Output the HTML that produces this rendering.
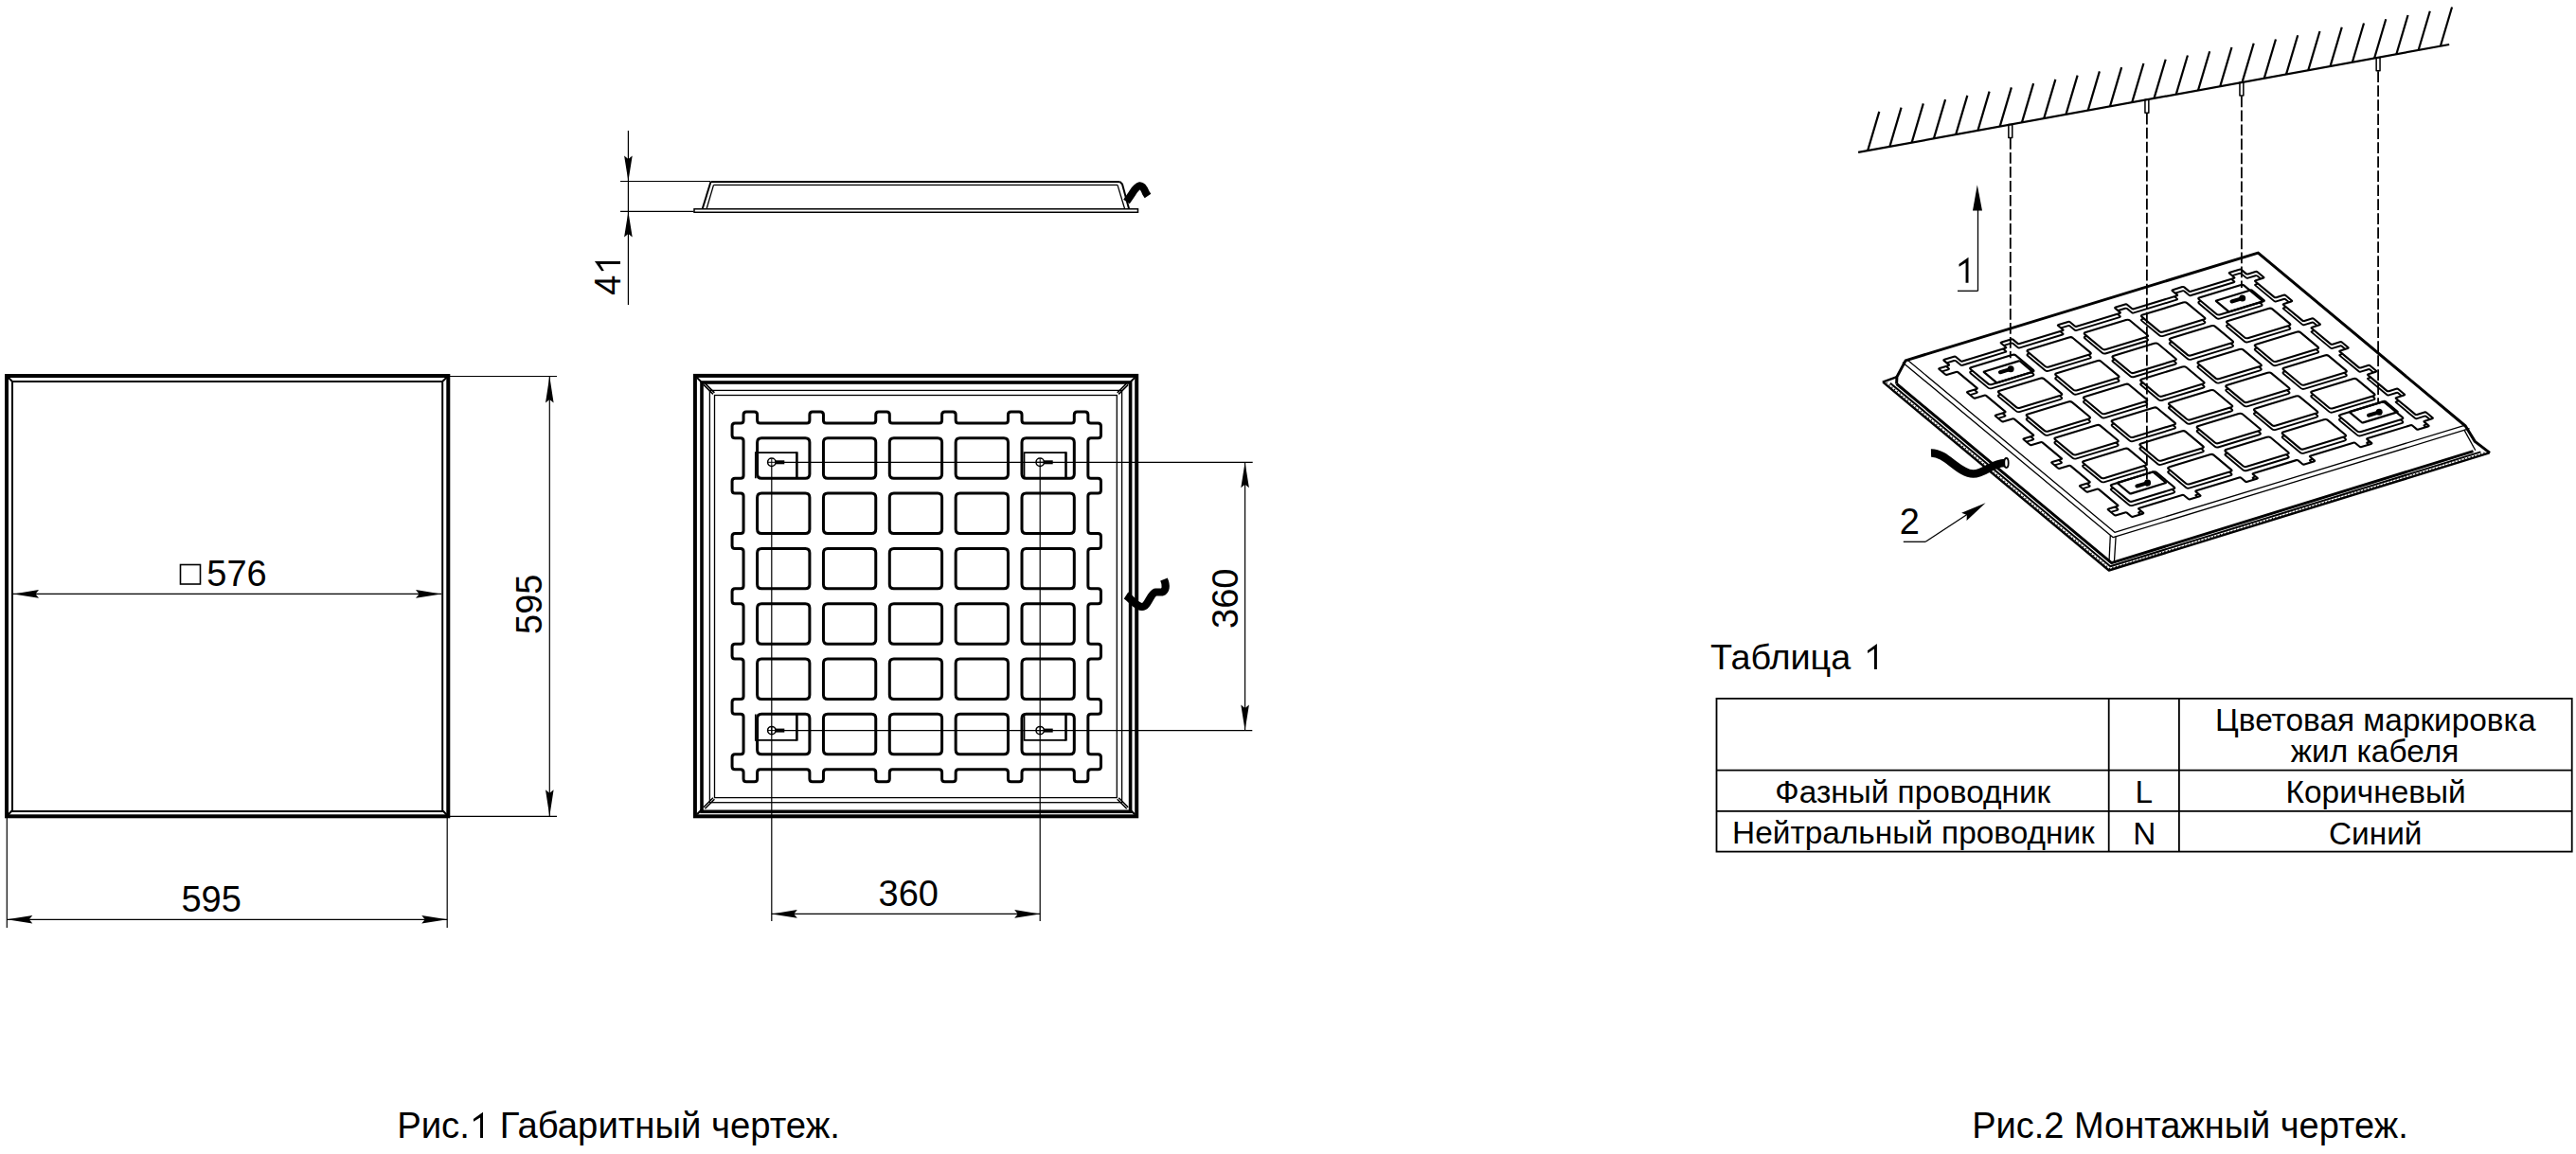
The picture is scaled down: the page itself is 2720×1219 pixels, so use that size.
<!DOCTYPE html>
<html><head><meta charset="utf-8"><style>
html,body{margin:0;padding:0;background:#fff;overflow:hidden}
svg{display:block}
text{font-family:"Liberation Sans",sans-serif}
</style></head><body>
<svg width="2720" height="1219" viewBox="0 0 2720 1219" font-family="Liberation Sans, sans-serif">
<rect width="100%" height="100%" fill="#fff"/>
<g stroke="#000" fill="none" stroke-linecap="butt">
<rect x="7" y="397" width="466.3" height="465.3" stroke-width="4"/>
<rect x="13" y="403" width="454.2" height="454" stroke-width="2"/>
<line x1="8.5" y1="398.5" x2="12.5" y2="402.5" stroke-width="2" />
<line x1="471.8" y1="398.5" x2="467.7" y2="402.5" stroke-width="2" />
<line x1="8.5" y1="860.8" x2="12.5" y2="856.5" stroke-width="2" />
<line x1="471.8" y1="860.8" x2="467.7" y2="856.5" stroke-width="2" />
<line x1="14" y1="627.4" x2="466" y2="627.4" stroke-width="1.2" />
<polygon points="14,627.4 41,623.1 37.5,627.4 41,631.7" fill="#000" stroke="none"/>
<polygon points="466,627.4 439,631.7 442.5,627.4 439,623.1" fill="#000" stroke="none"/>
<rect x="190.5" y="596.5" width="21" height="20.5" stroke-width="1.6"/>
<line x1="475" y1="397.5" x2="588" y2="397.5" stroke-width="1.2" />
<line x1="475" y1="862.3" x2="588" y2="862.3" stroke-width="1.2" />
<line x1="580.3" y1="397.5" x2="580.3" y2="862.3" stroke-width="1.2" />
<polygon points="580.3,397.5 584.6,425.5 580.3,422 576,425.5" fill="#000" stroke="none"/>
<polygon points="580.3,862.3 576,834.3 580.3,837.8 584.6,834.3" fill="#000" stroke="none"/>
<line x1="7.3" y1="864" x2="7.3" y2="980" stroke-width="1.2" />
<line x1="472.2" y1="864" x2="472.2" y2="980" stroke-width="1.2" />
<line x1="7.3" y1="971.3" x2="472.2" y2="971.3" stroke-width="1.2" />
<polygon points="7.3,971.3 34.3,967 30.8,971.3 34.3,975.6" fill="#000" stroke="none"/>
<polygon points="472.2,971.3 445.2,975.6 448.7,971.3 445.2,967" fill="#000" stroke="none"/>
<line x1="663.4" y1="138" x2="663.4" y2="322" stroke-width="1.2" />
<polygon points="663.4,191.5 659.1,164.5 663.4,168 667.7,164.5" fill="#000" stroke="none"/>
<polygon points="663.4,223.4 667.7,250.4 663.4,246.9 659.1,250.4" fill="#000" stroke="none"/>
<line x1="655" y1="191.5" x2="750" y2="191.5" stroke-width="1.2" />
<line x1="655" y1="223.4" x2="732.5" y2="223.4" stroke-width="1.2" />
<line x1="750.5" y1="192" x2="1182.5" y2="192" stroke-width="2" />
<line x1="753.5" y1="195.4" x2="1180" y2="195.4" stroke-width="1.3" />
<polyline points="750.5,192 741.8,220.3" stroke-width="2"/>
<polyline points="753.5,195.4 746.2,220.3" stroke-width="1.3"/>
<polyline points="1182.5,192 1185,194.5 1192,220.3" stroke-width="2"/>
<polyline points="1180,195.4 1187.5,220.3" stroke-width="1.3"/>
<path d="M733,220.8 H1201.5 V224.2 H733 Z" stroke-width="1.5"/>
<path d="M1189.5,213 L1194,206.5 C1197,202 1199.5,197 1203.5,196.3 C1206.5,196 1208.5,200 1210,204 L1212,207" stroke-width="8" stroke-linecap="butt" stroke-linejoin="miter"/>
<rect x="733.9" y="396.9" width="466.3" height="465.4" stroke-width="4"/>
<rect x="741" y="404" width="452.6" height="453.3" stroke-width="3.6"/>
<rect x="749.4" y="412.4" width="435.2" height="435.3" stroke-width="1.3"/>
<rect x="754.5" y="417.5" width="424.8" height="425.1" stroke-width="1.3"/>
<line x1="735.9" y1="398.9" x2="740.9" y2="403.9" stroke-width="2" />
<line x1="742.9" y1="406.4" x2="752.9" y2="416.4" stroke-width="1.5" />
<line x1="744.4" y1="404.9" x2="754.4" y2="414.9" stroke-width="1.5" />
<line x1="1198.2" y1="398.9" x2="1193.2" y2="403.9" stroke-width="2" />
<line x1="1191.2" y1="406.4" x2="1181.2" y2="416.4" stroke-width="1.5" />
<line x1="1189.7" y1="404.9" x2="1179.7" y2="414.9" stroke-width="1.5" />
<line x1="735.9" y1="860.3" x2="740.9" y2="855.3" stroke-width="2" />
<line x1="742.9" y1="852.8" x2="752.9" y2="842.8" stroke-width="1.5" />
<line x1="744.4" y1="854.3" x2="754.4" y2="844.3" stroke-width="1.5" />
<line x1="1198.2" y1="860.3" x2="1193.2" y2="855.3" stroke-width="2" />
<line x1="1191.2" y1="852.8" x2="1181.2" y2="842.8" stroke-width="1.5" />
<line x1="1189.7" y1="854.3" x2="1179.7" y2="844.3" stroke-width="1.5" />
<path d="M782.05,446.89Q785.05,446.89 785.05,443.89L785.05,437.89Q785.05,434.89 788.05,434.89L796.6,434.89Q799.6,434.89 799.6,437.89L799.6,443.89Q799.6,446.89 802.6,446.89L851.9,446.89Q854.9,446.89 854.9,443.89L854.9,437.89Q854.9,434.89 857.9,434.89L866.45,434.89Q869.45,434.89 869.45,437.89L869.45,443.89Q869.45,446.89 872.45,446.89L921.75,446.89Q924.75,446.89 924.75,443.89L924.75,437.89Q924.75,434.89 927.75,434.89L936.3,434.89Q939.3,434.89 939.3,437.89L939.3,443.89Q939.3,446.89 942.3,446.89L991.6,446.89Q994.6,446.89 994.6,443.89L994.6,437.89Q994.6,434.89 997.6,434.89L1006.15,434.89Q1009.15,434.89 1009.15,437.89L1009.15,443.89Q1009.15,446.89 1012.15,446.89L1061.45,446.89Q1064.45,446.89 1064.45,443.89L1064.45,437.89Q1064.45,434.89 1067.45,434.89L1076,434.89Q1079,434.89 1079,437.89L1079,443.89Q1079,446.89 1082,446.89L1131.3,446.89Q1134.3,446.89 1134.3,443.89L1134.3,437.89Q1134.3,434.89 1137.3,434.89L1145.85,434.89Q1148.85,434.89 1148.85,437.89L1148.85,443.89Q1148.85,446.89 1151.85,446.89L1159.45,446.89Q1162.45,446.89 1162.45,449.89L1162.45,459.8Q1162.45,462.8 1159.45,462.8L1151.85,462.8Q1148.85,462.8 1148.85,465.8L1148.85,502.2Q1148.85,505.2 1151.85,505.2L1159.45,505.2Q1162.45,505.2 1162.45,508.2L1162.45,518.11Q1162.45,521.11 1159.45,521.11L1151.85,521.11Q1148.85,521.11 1148.85,524.11L1148.85,560.51Q1148.85,563.51 1151.85,563.51L1159.45,563.51Q1162.45,563.51 1162.45,566.51L1162.45,576.42Q1162.45,579.42 1159.45,579.42L1151.85,579.42Q1148.85,579.42 1148.85,582.42L1148.85,618.82Q1148.85,621.82 1151.85,621.82L1159.45,621.82Q1162.45,621.82 1162.45,624.82L1162.45,634.73Q1162.45,637.73 1159.45,637.73L1151.85,637.73Q1148.85,637.73 1148.85,640.73L1148.85,677.13Q1148.85,680.13 1151.85,680.13L1159.45,680.13Q1162.45,680.13 1162.45,683.13L1162.45,693.04Q1162.45,696.04 1159.45,696.04L1151.85,696.04Q1148.85,696.04 1148.85,699.04L1148.85,735.44Q1148.85,738.44 1151.85,738.44L1159.45,738.44Q1162.45,738.44 1162.45,741.44L1162.45,751.35Q1162.45,754.35 1159.45,754.35L1151.85,754.35Q1148.85,754.35 1148.85,757.35L1148.85,793.75Q1148.85,796.75 1151.85,796.75L1159.45,796.75Q1162.45,796.75 1162.45,799.75L1162.45,809.66Q1162.45,812.66 1159.45,812.66L1151.85,812.66Q1148.85,812.66 1148.85,815.66L1148.85,822.66Q1148.85,825.66 1145.85,825.66L1137.3,825.66Q1134.3,825.66 1134.3,822.66L1134.3,815.66Q1134.3,812.66 1131.3,812.66L1082,812.66Q1079,812.66 1079,815.66L1079,822.66Q1079,825.66 1076,825.66L1067.45,825.66Q1064.45,825.66 1064.45,822.66L1064.45,815.66Q1064.45,812.66 1061.45,812.66L1012.15,812.66Q1009.15,812.66 1009.15,815.66L1009.15,822.66Q1009.15,825.66 1006.15,825.66L997.6,825.66Q994.6,825.66 994.6,822.66L994.6,815.66Q994.6,812.66 991.6,812.66L942.3,812.66Q939.3,812.66 939.3,815.66L939.3,822.66Q939.3,825.66 936.3,825.66L927.75,825.66Q924.75,825.66 924.75,822.66L924.75,815.66Q924.75,812.66 921.75,812.66L872.45,812.66Q869.45,812.66 869.45,815.66L869.45,822.66Q869.45,825.66 866.45,825.66L857.9,825.66Q854.9,825.66 854.9,822.66L854.9,815.66Q854.9,812.66 851.9,812.66L802.6,812.66Q799.6,812.66 799.6,815.66L799.6,822.66Q799.6,825.66 796.6,825.66L788.05,825.66Q785.05,825.66 785.05,822.66L785.05,815.66Q785.05,812.66 782.05,812.66L776.05,812.66Q773.05,812.66 773.05,809.66L773.05,799.75Q773.05,796.75 776.05,796.75L782.05,796.75Q785.05,796.75 785.05,793.75L785.05,757.35Q785.05,754.35 782.05,754.35L776.05,754.35Q773.05,754.35 773.05,751.35L773.05,741.44Q773.05,738.44 776.05,738.44L782.05,738.44Q785.05,738.44 785.05,735.44L785.05,699.04Q785.05,696.04 782.05,696.04L776.05,696.04Q773.05,696.04 773.05,693.04L773.05,683.13Q773.05,680.13 776.05,680.13L782.05,680.13Q785.05,680.13 785.05,677.13L785.05,640.73Q785.05,637.73 782.05,637.73L776.05,637.73Q773.05,637.73 773.05,634.73L773.05,624.82Q773.05,621.82 776.05,621.82L782.05,621.82Q785.05,621.82 785.05,618.82L785.05,582.42Q785.05,579.42 782.05,579.42L776.05,579.42Q773.05,579.42 773.05,576.42L773.05,566.51Q773.05,563.51 776.05,563.51L782.05,563.51Q785.05,563.51 785.05,560.51L785.05,524.11Q785.05,521.11 782.05,521.11L776.05,521.11Q773.05,521.11 773.05,518.11L773.05,508.2Q773.05,505.2 776.05,505.2L782.05,505.2Q785.05,505.2 785.05,502.2L785.05,465.8Q785.05,462.8 782.05,462.8L776.05,462.8Q773.05,462.8 773.05,459.8L773.05,449.89Q773.05,446.89 776.05,446.89Z" stroke-width="3" stroke-linejoin="round"/>
<path d="M799.6,467.3Q799.6,462.8 804.1,462.8L850.4,462.8Q854.9,462.8 854.9,467.3L854.9,500.7Q854.9,505.2 850.4,505.2L804.1,505.2Q799.6,505.2 799.6,500.7Z" stroke-width="3"/>
<path d="M799.6,525.61Q799.6,521.11 804.1,521.11L850.4,521.11Q854.9,521.11 854.9,525.61L854.9,559.01Q854.9,563.51 850.4,563.51L804.1,563.51Q799.6,563.51 799.6,559.01Z" stroke-width="3"/>
<path d="M799.6,583.92Q799.6,579.42 804.1,579.42L850.4,579.42Q854.9,579.42 854.9,583.92L854.9,617.32Q854.9,621.82 850.4,621.82L804.1,621.82Q799.6,621.82 799.6,617.32Z" stroke-width="3"/>
<path d="M799.6,642.23Q799.6,637.73 804.1,637.73L850.4,637.73Q854.9,637.73 854.9,642.23L854.9,675.63Q854.9,680.13 850.4,680.13L804.1,680.13Q799.6,680.13 799.6,675.63Z" stroke-width="3"/>
<path d="M799.6,700.54Q799.6,696.04 804.1,696.04L850.4,696.04Q854.9,696.04 854.9,700.54L854.9,733.94Q854.9,738.44 850.4,738.44L804.1,738.44Q799.6,738.44 799.6,733.94Z" stroke-width="3"/>
<path d="M799.6,758.85Q799.6,754.35 804.1,754.35L850.4,754.35Q854.9,754.35 854.9,758.85L854.9,792.25Q854.9,796.75 850.4,796.75L804.1,796.75Q799.6,796.75 799.6,792.25Z" stroke-width="3"/>
<path d="M869.45,467.3Q869.45,462.8 873.95,462.8L920.25,462.8Q924.75,462.8 924.75,467.3L924.75,500.7Q924.75,505.2 920.25,505.2L873.95,505.2Q869.45,505.2 869.45,500.7Z" stroke-width="3"/>
<path d="M869.45,525.61Q869.45,521.11 873.95,521.11L920.25,521.11Q924.75,521.11 924.75,525.61L924.75,559.01Q924.75,563.51 920.25,563.51L873.95,563.51Q869.45,563.51 869.45,559.01Z" stroke-width="3"/>
<path d="M869.45,583.92Q869.45,579.42 873.95,579.42L920.25,579.42Q924.75,579.42 924.75,583.92L924.75,617.32Q924.75,621.82 920.25,621.82L873.95,621.82Q869.45,621.82 869.45,617.32Z" stroke-width="3"/>
<path d="M869.45,642.23Q869.45,637.73 873.95,637.73L920.25,637.73Q924.75,637.73 924.75,642.23L924.75,675.63Q924.75,680.13 920.25,680.13L873.95,680.13Q869.45,680.13 869.45,675.63Z" stroke-width="3"/>
<path d="M869.45,700.54Q869.45,696.04 873.95,696.04L920.25,696.04Q924.75,696.04 924.75,700.54L924.75,733.94Q924.75,738.44 920.25,738.44L873.95,738.44Q869.45,738.44 869.45,733.94Z" stroke-width="3"/>
<path d="M869.45,758.85Q869.45,754.35 873.95,754.35L920.25,754.35Q924.75,754.35 924.75,758.85L924.75,792.25Q924.75,796.75 920.25,796.75L873.95,796.75Q869.45,796.75 869.45,792.25Z" stroke-width="3"/>
<path d="M939.3,467.3Q939.3,462.8 943.8,462.8L990.1,462.8Q994.6,462.8 994.6,467.3L994.6,500.7Q994.6,505.2 990.1,505.2L943.8,505.2Q939.3,505.2 939.3,500.7Z" stroke-width="3"/>
<path d="M939.3,525.61Q939.3,521.11 943.8,521.11L990.1,521.11Q994.6,521.11 994.6,525.61L994.6,559.01Q994.6,563.51 990.1,563.51L943.8,563.51Q939.3,563.51 939.3,559.01Z" stroke-width="3"/>
<path d="M939.3,583.92Q939.3,579.42 943.8,579.42L990.1,579.42Q994.6,579.42 994.6,583.92L994.6,617.32Q994.6,621.82 990.1,621.82L943.8,621.82Q939.3,621.82 939.3,617.32Z" stroke-width="3"/>
<path d="M939.3,642.23Q939.3,637.73 943.8,637.73L990.1,637.73Q994.6,637.73 994.6,642.23L994.6,675.63Q994.6,680.13 990.1,680.13L943.8,680.13Q939.3,680.13 939.3,675.63Z" stroke-width="3"/>
<path d="M939.3,700.54Q939.3,696.04 943.8,696.04L990.1,696.04Q994.6,696.04 994.6,700.54L994.6,733.94Q994.6,738.44 990.1,738.44L943.8,738.44Q939.3,738.44 939.3,733.94Z" stroke-width="3"/>
<path d="M939.3,758.85Q939.3,754.35 943.8,754.35L990.1,754.35Q994.6,754.35 994.6,758.85L994.6,792.25Q994.6,796.75 990.1,796.75L943.8,796.75Q939.3,796.75 939.3,792.25Z" stroke-width="3"/>
<path d="M1009.15,467.3Q1009.15,462.8 1013.65,462.8L1059.95,462.8Q1064.45,462.8 1064.45,467.3L1064.45,500.7Q1064.45,505.2 1059.95,505.2L1013.65,505.2Q1009.15,505.2 1009.15,500.7Z" stroke-width="3"/>
<path d="M1009.15,525.61Q1009.15,521.11 1013.65,521.11L1059.95,521.11Q1064.45,521.11 1064.45,525.61L1064.45,559.01Q1064.45,563.51 1059.95,563.51L1013.65,563.51Q1009.15,563.51 1009.15,559.01Z" stroke-width="3"/>
<path d="M1009.15,583.92Q1009.15,579.42 1013.65,579.42L1059.95,579.42Q1064.45,579.42 1064.45,583.92L1064.45,617.32Q1064.45,621.82 1059.95,621.82L1013.65,621.82Q1009.15,621.82 1009.15,617.32Z" stroke-width="3"/>
<path d="M1009.15,642.23Q1009.15,637.73 1013.65,637.73L1059.95,637.73Q1064.45,637.73 1064.45,642.23L1064.45,675.63Q1064.45,680.13 1059.95,680.13L1013.65,680.13Q1009.15,680.13 1009.15,675.63Z" stroke-width="3"/>
<path d="M1009.15,700.54Q1009.15,696.04 1013.65,696.04L1059.95,696.04Q1064.45,696.04 1064.45,700.54L1064.45,733.94Q1064.45,738.44 1059.95,738.44L1013.65,738.44Q1009.15,738.44 1009.15,733.94Z" stroke-width="3"/>
<path d="M1009.15,758.85Q1009.15,754.35 1013.65,754.35L1059.95,754.35Q1064.45,754.35 1064.45,758.85L1064.45,792.25Q1064.45,796.75 1059.95,796.75L1013.65,796.75Q1009.15,796.75 1009.15,792.25Z" stroke-width="3"/>
<path d="M1079,467.3Q1079,462.8 1083.5,462.8L1129.8,462.8Q1134.3,462.8 1134.3,467.3L1134.3,500.7Q1134.3,505.2 1129.8,505.2L1083.5,505.2Q1079,505.2 1079,500.7Z" stroke-width="3"/>
<path d="M1079,525.61Q1079,521.11 1083.5,521.11L1129.8,521.11Q1134.3,521.11 1134.3,525.61L1134.3,559.01Q1134.3,563.51 1129.8,563.51L1083.5,563.51Q1079,563.51 1079,559.01Z" stroke-width="3"/>
<path d="M1079,583.92Q1079,579.42 1083.5,579.42L1129.8,579.42Q1134.3,579.42 1134.3,583.92L1134.3,617.32Q1134.3,621.82 1129.8,621.82L1083.5,621.82Q1079,621.82 1079,617.32Z" stroke-width="3"/>
<path d="M1079,642.23Q1079,637.73 1083.5,637.73L1129.8,637.73Q1134.3,637.73 1134.3,642.23L1134.3,675.63Q1134.3,680.13 1129.8,680.13L1083.5,680.13Q1079,680.13 1079,675.63Z" stroke-width="3"/>
<path d="M1079,700.54Q1079,696.04 1083.5,696.04L1129.8,696.04Q1134.3,696.04 1134.3,700.54L1134.3,733.94Q1134.3,738.44 1129.8,738.44L1083.5,738.44Q1079,738.44 1079,733.94Z" stroke-width="3"/>
<path d="M1079,758.85Q1079,754.35 1083.5,754.35L1129.8,754.35Q1134.3,754.35 1134.3,758.85L1134.3,792.25Q1134.3,796.75 1129.8,796.75L1083.5,796.75Q1079,796.75 1079,792.25Z" stroke-width="3"/>
<polyline points="797.8,505.2 797.8,478.1 841.4,478.1" stroke-width="1.7"/>
<line x1="841.4" y1="477.3" x2="841.4" y2="505.2" stroke-width="2.6"/>
<polyline points="1081.5,505.2 1081.5,478.1 1125.5,478.1" stroke-width="1.7"/>
<line x1="1125.5" y1="477.3" x2="1125.5" y2="505.2" stroke-width="2.6"/>
<polyline points="797.8,754.4 797.8,781.8 841.4,781.8" stroke-width="1.7"/>
<line x1="841.4" y1="754.4" x2="841.4" y2="782.5999999999999" stroke-width="2.6"/>
<polyline points="1081.5,754.4 1081.5,781.8 1125.5,781.8" stroke-width="1.7"/>
<line x1="1125.5" y1="754.4" x2="1125.5" y2="782.5999999999999" stroke-width="2.6"/>
<circle cx="814.8" cy="488.3" r="4.2" stroke-width="1.5"/>
<line x1="810.8" y1="488.3" x2="818.8" y2="488.3" stroke-width="1" />
<line x1="814.8" y1="484.3" x2="814.8" y2="492.3" stroke-width="1" />
<rect x="818.8" y="486.3" width="9.5" height="4" fill="#000" stroke="none"/>
<circle cx="1098.2" cy="488.3" r="4.2" stroke-width="1.5"/>
<line x1="1094.2" y1="488.3" x2="1102.2" y2="488.3" stroke-width="1" />
<line x1="1098.2" y1="484.3" x2="1098.2" y2="492.3" stroke-width="1" />
<rect x="1102.2" y="486.3" width="9.5" height="4" fill="#000" stroke="none"/>
<circle cx="814.8" cy="771.6" r="4.2" stroke-width="1.5"/>
<line x1="810.8" y1="771.6" x2="818.8" y2="771.6" stroke-width="1" />
<line x1="814.8" y1="767.6" x2="814.8" y2="775.6" stroke-width="1" />
<rect x="818.8" y="769.6" width="9.5" height="4" fill="#000" stroke="none"/>
<circle cx="1098.2" cy="771.6" r="4.2" stroke-width="1.5"/>
<line x1="1094.2" y1="771.6" x2="1102.2" y2="771.6" stroke-width="1" />
<line x1="1098.2" y1="767.6" x2="1098.2" y2="775.6" stroke-width="1" />
<rect x="1102.2" y="769.6" width="9.5" height="4" fill="#000" stroke="none"/>
<line x1="814.8" y1="492.5" x2="814.8" y2="973" stroke-width="1.2" />
<line x1="1098.2" y1="492.5" x2="1098.2" y2="973" stroke-width="1.2" />
<line x1="819" y1="488.3" x2="1322.7" y2="488.3" stroke-width="1.2" />
<line x1="819" y1="771.6" x2="1322.3" y2="771.6" stroke-width="1.2" />
<line x1="814.8" y1="965.4" x2="1098.2" y2="965.4" stroke-width="1.2" />
<polygon points="814.8,965.4 841.8,961.1 838.3,965.4 841.8,969.7" fill="#000" stroke="none"/>
<polygon points="1098.2,965.4 1071.2,969.7 1074.7,965.4 1071.2,961.1" fill="#000" stroke="none"/>
<line x1="1314.6" y1="488.3" x2="1314.6" y2="771.6" stroke-width="1.2" />
<polygon points="1314.6,488.3 1318.9,515.3 1314.6,511.8 1310.3,515.3" fill="#000" stroke="none"/>
<polygon points="1314.6,771.6 1310.3,744.6 1314.6,748.1 1318.9,744.6" fill="#000" stroke="none"/>
<path d="M1189,629 C1195,633 1200,641 1206,641 C1212,641 1214,628 1220,625.5 L1227,625.5 C1231,624 1232,619 1229,612" stroke-width="8.2" stroke-linejoin="round"/>
<g stroke="#000" fill="none" stroke-linejoin="round">
<line x1="1962.1" y1="160.9" x2="2586.2" y2="47" stroke-width="2.2" />
<line x1="1972.1" y1="159.08" x2="1984.3" y2="117.88" stroke-width="2.2" />
<line x1="1995.36" y1="154.83" x2="2007.56" y2="113.63" stroke-width="2.2" />
<line x1="2018.62" y1="150.59" x2="2030.82" y2="109.39" stroke-width="2.2" />
<line x1="2041.88" y1="146.34" x2="2054.08" y2="105.14" stroke-width="2.2" />
<line x1="2065.14" y1="142.1" x2="2077.34" y2="100.9" stroke-width="2.2" />
<line x1="2088.4" y1="137.85" x2="2100.6" y2="96.65" stroke-width="2.2" />
<line x1="2111.66" y1="133.61" x2="2123.86" y2="92.41" stroke-width="2.2" />
<line x1="2134.92" y1="129.36" x2="2147.12" y2="88.16" stroke-width="2.2" />
<line x1="2158.18" y1="125.12" x2="2170.38" y2="83.92" stroke-width="2.2" />
<line x1="2181.44" y1="120.87" x2="2193.64" y2="79.67" stroke-width="2.2" />
<line x1="2204.7" y1="116.63" x2="2216.9" y2="75.43" stroke-width="2.2" />
<line x1="2227.96" y1="112.38" x2="2240.16" y2="71.18" stroke-width="2.2" />
<line x1="2251.22" y1="108.14" x2="2263.42" y2="66.94" stroke-width="2.2" />
<line x1="2274.48" y1="103.89" x2="2286.68" y2="62.69" stroke-width="2.2" />
<line x1="2297.74" y1="99.65" x2="2309.94" y2="58.45" stroke-width="2.2" />
<line x1="2321" y1="95.4" x2="2333.2" y2="54.2" stroke-width="2.2" />
<line x1="2344.26" y1="91.16" x2="2356.46" y2="49.96" stroke-width="2.2" />
<line x1="2367.52" y1="86.91" x2="2379.72" y2="45.71" stroke-width="2.2" />
<line x1="2390.78" y1="82.67" x2="2402.98" y2="41.47" stroke-width="2.2" />
<line x1="2414.04" y1="78.42" x2="2426.24" y2="37.22" stroke-width="2.2" />
<line x1="2437.3" y1="74.18" x2="2449.5" y2="32.98" stroke-width="2.2" />
<line x1="2460.56" y1="69.93" x2="2472.76" y2="28.73" stroke-width="2.2" />
<line x1="2483.82" y1="65.69" x2="2496.02" y2="24.49" stroke-width="2.2" />
<line x1="2507.08" y1="61.44" x2="2519.28" y2="20.24" stroke-width="2.2" />
<line x1="2530.34" y1="57.2" x2="2542.54" y2="16" stroke-width="2.2" />
<line x1="2553.6" y1="52.95" x2="2565.8" y2="11.75" stroke-width="2.2" />
<line x1="2576.86" y1="48.71" x2="2589.06" y2="7.51" stroke-width="2.2" />
<rect x="2120.85" y="131.57" width="3.9" height="14" stroke-width="1.5"/>
<rect x="2264.95" y="105.27" width="3.9" height="14" stroke-width="1.5"/>
<rect x="2364.95" y="87.02" width="3.9" height="14" stroke-width="1.5"/>
<rect x="2509.15" y="60.71" width="3.9" height="14" stroke-width="1.5"/>
<line x1="2122.8" y1="146.07" x2="2122.8" y2="378.3" stroke-width="1.8" stroke-dasharray="11.8 3.2"/>
<line x1="2266.9" y1="119.77" x2="2266.9" y2="513.5" stroke-width="1.8" stroke-dasharray="11.8 3.2"/>
<line x1="2366.9" y1="101.52" x2="2366.9" y2="304" stroke-width="1.8" stroke-dasharray="11.8 3.2"/>
<line x1="2511.1" y1="75.21" x2="2511.1" y2="426" stroke-width="1.8" stroke-dasharray="11.8 3.2"/>
<line x1="2088.5" y1="222" x2="2088.5" y2="307.3" stroke-width="1.3" />
<line x1="2067" y1="307.3" x2="2088.5" y2="307.3" stroke-width="1.3" />
<polygon points="2087.8,195.2 2093,222.4 2083,222.4" fill="#000" stroke="none"/>
<polyline points="2002.6,405.5 2002.9,398.1 2012.12,380.87 2384.32,267.1 2603.3,450 2613.3,466.4 2629,478.4" stroke-width="3" />
<polyline points="2002.9,398.1 1987.8,403.6" stroke-width="2.4" />
<polyline points="2601.8,453.9 2613.8,475.8" stroke-width="1.3" />
<polyline points="2014.15,380.24 2232.92,562.27 2603.08,449.13" stroke-width="1.3" />
<polyline points="2008.87,382.65 2231.25,567.68 2607.53,452.67" stroke-width="1.3" />
<polyline points="2228.3,565.5 2227,593.6" stroke-width="1.3" />
<polyline points="2234.1,566.5 2232.5,593" stroke-width="1.3" />
<polyline points="2002.6,405.5 2229.58,594.69 2611.5,476.6" stroke-width="3.0" />
<polyline points="1995.94,404.65 2228.31,598.33 2619.38,477.41" stroke-width="2.0" />
<polyline points="1988.24,403.66 2226.85,602.53 2628.47,478.35" stroke-width="2.5" />
<polyline points="1991.94,404.13 2227.55,600.51 2624.1,477.9" stroke-width="1.2" stroke-dasharray="1.2 2.4"/>
<clipPath id="latclip"><path d="M2560.28,444.64Q2558.99,445.04 2559.75,445.67L2564.34,449.49Q2565.11,450.13 2563.81,450.52L2553.85,453.57Q2552.55,453.97 2551.79,453.33L2547.2,449.51Q2546.43,448.87 2545.14,449.27L2500,463.07Q2498.71,463.46 2499.47,464.1L2504.06,467.92Q2504.83,468.56 2503.53,468.95L2493.57,472Q2492.27,472.39 2491.51,471.76L2486.92,467.94Q2486.15,467.3 2484.86,467.7L2439.72,481.49Q2438.43,481.89 2439.19,482.53L2443.78,486.35Q2444.55,486.98 2443.25,487.38L2433.28,490.42Q2431.99,490.82 2431.23,490.18L2426.64,486.36Q2425.87,485.73 2424.58,486.12L2379.44,499.92Q2378.15,500.32 2378.91,500.95L2383.5,504.77Q2384.27,505.41 2382.97,505.8L2373,508.85Q2371.71,509.25 2370.94,508.61L2366.35,504.79Q2365.59,504.15 2364.3,504.55L2319.16,518.35Q2317.87,518.74 2318.63,519.38L2323.22,523.2Q2323.99,523.83 2322.69,524.23L2312.72,527.28Q2311.43,527.67 2310.66,527.04L2306.07,523.22Q2305.31,522.58 2304.01,522.98L2258.88,536.77Q2257.59,537.17 2258.35,537.8L2262.94,541.62Q2263.71,542.26 2262.41,542.66L2252.44,545.7Q2251.15,546.1 2250.38,545.46L2245.79,541.64Q2245.03,541.01 2243.73,541.4L2234.59,544.2Q2233.29,544.59 2232.53,543.96L2225.94,538.48Q2225.18,537.84 2226.47,537.45L2235.62,534.65Q2236.91,534.25 2236.15,533.62L2216.06,516.9Q2215.29,516.26 2214,516.66L2204.85,519.45Q2203.55,519.85 2202.79,519.21L2196.2,513.73Q2195.44,513.1 2196.73,512.7L2205.88,509.9Q2207.18,509.51 2206.41,508.87L2186.32,492.15Q2185.55,491.51 2184.26,491.91L2175.11,494.7Q2173.82,495.1 2173.05,494.46L2166.47,488.99Q2165.7,488.35 2167,487.95L2176.14,485.16Q2177.44,484.76 2176.67,484.12L2156.58,467.4Q2155.81,466.77 2154.52,467.16L2145.37,469.96Q2144.08,470.35 2143.31,469.72L2136.73,464.24Q2135.96,463.6 2137.26,463.21L2146.41,460.41Q2147.7,460.01 2146.94,459.38L2126.84,442.66Q2126.08,442.02 2124.78,442.42L2115.63,445.21Q2114.34,445.61 2113.57,444.97L2106.99,439.49Q2106.23,438.85 2107.52,438.46L2116.67,435.66Q2117.96,435.27 2117.2,434.63L2097.1,417.91Q2096.34,417.27 2095.04,417.67L2085.9,420.46Q2084.6,420.86 2083.84,420.22L2077.25,414.74Q2076.49,414.11 2077.78,413.71L2086.93,410.92Q2088.22,410.52 2087.46,409.88L2067.36,393.16Q2066.6,392.53 2065.31,392.92L2056.16,395.72Q2054.86,396.11 2054.1,395.48L2047.51,390Q2046.75,389.36 2048.04,388.97L2057.19,386.17Q2058.49,385.77 2057.72,385.14L2052.62,380.89Q2051.86,380.26 2053.15,379.86L2063.12,376.81Q2064.41,376.42 2065.18,377.05L2070.28,381.3Q2071.04,381.94 2072.34,381.54L2117.47,367.74Q2118.77,367.35 2118,366.71L2112.9,362.47Q2112.14,361.83 2113.43,361.43L2123.4,358.39Q2124.69,357.99 2125.46,358.63L2130.56,362.87Q2131.32,363.51 2132.62,363.11L2177.75,349.32Q2179.05,348.92 2178.28,348.28L2173.18,344.04Q2172.42,343.4 2173.71,343.01L2183.68,339.96Q2184.97,339.57 2185.74,340.2L2190.84,344.45Q2191.6,345.08 2192.9,344.69L2238.03,330.89Q2239.33,330.49 2238.56,329.86L2233.46,325.61Q2232.7,324.98 2233.99,324.58L2243.96,321.53Q2245.25,321.14 2246.02,321.78L2251.12,326.02Q2251.88,326.66 2253.18,326.26L2298.31,312.46Q2299.61,312.07 2298.84,311.43L2293.74,307.19Q2292.98,306.55 2294.27,306.16L2304.24,303.11Q2305.53,302.71 2306.3,303.35L2311.4,307.59Q2312.16,308.23 2313.46,307.83L2358.59,294.04Q2359.89,293.64 2359.12,293L2354.02,288.76Q2353.26,288.12 2354.55,287.73L2364.52,284.68Q2365.82,284.29 2366.58,284.92L2371.68,289.17Q2372.45,289.8 2373.74,289.41L2381.51,287.03Q2382.8,286.64 2383.57,287.27L2390.15,292.75Q2390.92,293.39 2389.62,293.79L2381.85,296.16Q2380.56,296.56 2381.32,297.19L2401.42,313.91Q2402.18,314.55 2403.48,314.15L2411.24,311.78Q2412.54,311.38 2413.3,312.02L2419.89,317.5Q2420.65,318.14 2419.36,318.53L2411.59,320.91Q2410.3,321.3 2411.06,321.94L2431.16,338.66Q2431.92,339.3 2433.22,338.9L2440.98,336.53Q2442.28,336.13 2443.04,336.77L2449.63,342.25Q2450.39,342.88 2449.1,343.28L2441.33,345.65Q2440.04,346.05 2440.8,346.69L2460.89,363.41Q2461.66,364.04 2462.95,363.65L2470.72,361.27Q2472.02,360.88 2472.78,361.51L2479.36,366.99Q2480.13,367.63 2478.84,368.03L2471.07,370.4Q2469.77,370.8 2470.54,371.43L2490.63,388.15Q2491.4,388.79 2492.69,388.39L2500.46,386.02Q2501.75,385.62 2502.52,386.26L2509.1,391.74Q2509.87,392.38 2508.57,392.77L2500.81,395.15Q2499.51,395.54 2500.28,396.18L2520.37,412.9Q2521.14,413.54 2522.43,413.14L2530.2,410.77Q2531.49,410.37 2532.26,411.01L2538.84,416.49Q2539.61,417.12 2538.31,417.52L2530.54,419.89Q2529.25,420.29 2530.01,420.93L2550.11,437.65Q2550.87,438.28 2552.17,437.89L2559.94,435.51Q2561.23,435.12 2561.99,435.75L2568.58,441.23Q2569.34,441.87 2568.05,442.27Z"/></clipPath>
<mask id="padmask" maskUnits="userSpaceOnUse" x="1900" y="200" width="820" height="450"><rect x="1900" y="200" width="820" height="450" fill="#fff"/><path d="M2536.79,440.85Q2538.32,442.12 2535.73,442.91L2493.18,455.92Q2490.59,456.71 2489.06,455.44L2470.5,439.99Q2468.97,438.72 2471.56,437.92L2514.1,424.92Q2516.69,424.13 2518.22,425.4Z" fill="#000" stroke="none"/><path d="M2507.05,416.1Q2508.58,417.38 2505.99,418.17L2463.44,431.17Q2460.86,431.96 2459.33,430.69L2440.76,415.24Q2439.23,413.97 2441.82,413.18L2484.37,400.17Q2486.96,399.38 2488.49,400.65Z" fill="#000" stroke="none"/><path d="M2477.31,391.36Q2478.84,392.63 2476.25,393.42L2433.71,406.43Q2431.12,407.22 2429.59,405.94L2411.02,390.5Q2409.49,389.22 2412.08,388.43L2454.63,375.43Q2457.22,374.63 2458.75,375.91Z" fill="#000" stroke="none"/><path d="M2447.57,366.61Q2449.1,367.88 2446.51,368.67L2403.97,381.68Q2401.38,382.47 2399.85,381.2L2381.28,365.75Q2379.76,364.48 2382.34,363.68L2424.89,350.68Q2427.48,349.89 2429.01,351.16Z" fill="#000" stroke="none"/><path d="M2417.83,341.86Q2419.36,343.14 2416.78,343.93L2374.23,356.93Q2371.64,357.72 2370.11,356.45L2351.55,341Q2350.02,339.73 2352.61,338.94L2395.15,325.93Q2397.74,325.14 2399.27,326.41Z" fill="#000" stroke="none"/><path d="M2388.1,317.12Q2389.63,318.39 2387.04,319.18L2344.49,332.19Q2341.9,332.98 2340.37,331.7L2321.81,316.26Q2320.28,314.98 2322.87,314.19L2365.41,301.19Q2368,300.39 2369.53,301.67Z" fill="#000" stroke="none"/><path d="M2476.51,459.28Q2478.04,460.55 2475.45,461.34L2432.9,474.35Q2430.31,475.14 2428.78,473.86L2410.22,458.42Q2408.69,457.14 2411.28,456.35L2453.82,443.35Q2456.41,442.55 2457.94,443.83Z" fill="#000" stroke="none"/><path d="M2446.77,434.53Q2448.3,435.8 2445.71,436.59L2403.16,449.6Q2400.57,450.39 2399.04,449.12L2380.48,433.67Q2378.95,432.4 2381.54,431.6L2424.09,418.6Q2426.67,417.81 2428.2,419.08Z" fill="#000" stroke="none"/><path d="M2417.03,409.78Q2418.56,411.06 2415.97,411.85L2373.43,424.85Q2370.84,425.64 2369.31,424.37L2350.74,408.92Q2349.21,407.65 2351.8,406.86L2394.35,393.85Q2396.94,393.06 2398.47,394.33Z" fill="#000" stroke="none"/><path d="M2387.29,385.04Q2388.82,386.31 2386.23,387.1L2343.69,400.11Q2341.1,400.9 2339.57,399.62L2321,384.18Q2319.47,382.9 2322.06,382.11L2364.61,369.11Q2367.2,368.31 2368.73,369.59Z" fill="#000" stroke="none"/><path d="M2357.55,360.29Q2359.08,361.56 2356.5,362.35L2313.95,375.36Q2311.36,376.15 2309.83,374.88L2291.27,359.43Q2289.74,358.16 2292.33,357.36L2334.87,344.36Q2337.46,343.57 2338.99,344.84Z" fill="#000" stroke="none"/><path d="M2327.82,335.54Q2329.35,336.81 2326.76,337.61L2284.21,350.61Q2281.62,351.4 2280.09,350.13L2261.53,334.68Q2260,333.41 2262.59,332.62L2305.13,319.61Q2307.72,318.82 2309.25,320.09Z" fill="#000" stroke="none"/><path d="M2416.23,477.7Q2417.76,478.98 2415.17,479.77L2372.62,492.77Q2370.03,493.56 2368.5,492.29L2349.94,476.84Q2348.41,475.57 2351,474.78L2393.54,461.77Q2396.13,460.98 2397.66,462.25Z" fill="#000" stroke="none"/><path d="M2386.49,452.96Q2388.02,454.23 2385.43,455.02L2342.88,468.02Q2340.29,468.82 2338.76,467.54L2320.2,452.1Q2318.67,450.82 2321.26,450.03L2363.81,437.03Q2366.39,436.23 2367.92,437.51Z" fill="#000" stroke="none"/><path d="M2356.75,428.21Q2358.28,429.48 2355.69,430.27L2313.15,443.28Q2310.56,444.07 2309.03,442.8L2290.46,427.35Q2288.93,426.08 2291.52,425.28L2334.07,412.28Q2336.66,411.49 2338.19,412.76Z" fill="#000" stroke="none"/><path d="M2327.01,403.46Q2328.54,404.73 2325.95,405.53L2283.41,418.53Q2280.82,419.32 2279.29,418.05L2260.72,402.6Q2259.19,401.33 2261.78,400.54L2304.33,387.53Q2306.92,386.74 2308.45,388.01Z" fill="#000" stroke="none"/><path d="M2297.27,378.71Q2298.8,379.99 2296.21,380.78L2253.67,393.78Q2251.08,394.58 2249.55,393.3L2230.99,377.85Q2229.46,376.58 2232.04,375.79L2274.59,362.78Q2277.18,361.99 2278.71,363.27Z" fill="#000" stroke="none"/><path d="M2267.54,353.97Q2269.07,355.24 2266.48,356.03L2223.93,369.04Q2221.34,369.83 2219.81,368.56L2201.25,353.11Q2199.72,351.83 2202.31,351.04L2244.85,338.04Q2247.44,337.25 2248.97,338.52Z" fill="#000" stroke="none"/><path d="M2355.95,496.13Q2357.48,497.4 2354.89,498.19L2312.34,511.2Q2309.75,511.99 2308.22,510.72L2289.66,495.27Q2288.13,494 2290.72,493.2L2333.26,480.2Q2335.85,479.41 2337.38,480.68Z" fill="#000" stroke="none"/><path d="M2326.21,471.38Q2327.74,472.65 2325.15,473.45L2282.6,486.45Q2280.01,487.24 2278.48,485.97L2259.92,470.52Q2258.39,469.25 2260.98,468.46L2303.52,455.45Q2306.11,454.66 2307.64,455.93Z" fill="#000" stroke="none"/><path d="M2296.47,446.63Q2298,447.91 2295.41,448.7L2252.86,461.7Q2250.28,462.5 2248.75,461.22L2230.18,445.77Q2228.65,444.5 2231.24,443.71L2273.79,430.7Q2276.38,429.91 2277.91,431.19Z" fill="#000" stroke="none"/><path d="M2266.73,421.89Q2268.26,423.16 2265.67,423.95L2223.13,436.96Q2220.54,437.75 2219.01,436.48L2200.44,421.03Q2198.91,419.75 2201.5,418.96L2244.05,405.96Q2246.64,405.17 2248.17,406.44Z" fill="#000" stroke="none"/><path d="M2236.99,397.14Q2238.52,398.41 2235.93,399.21L2193.39,412.21Q2190.8,413 2189.27,411.73L2170.71,396.28Q2169.18,395.01 2171.76,394.22L2214.31,381.21Q2216.9,380.42 2218.43,381.69Z" fill="#000" stroke="none"/><path d="M2207.26,372.39Q2208.79,373.67 2206.2,374.46L2163.65,387.46Q2161.06,388.26 2159.53,386.98L2140.97,371.53Q2139.44,370.26 2142.03,369.47L2184.57,356.46Q2187.16,355.67 2188.69,356.95Z" fill="#000" stroke="none"/><path d="M2295.66,514.55Q2297.2,515.83 2294.61,516.62L2252.06,529.62Q2249.47,530.42 2247.94,529.14L2229.38,513.69Q2227.85,512.42 2230.44,511.63L2272.98,498.62Q2275.57,497.83 2277.1,499.11Z" fill="#000" stroke="none"/><path d="M2265.93,489.81Q2267.46,491.08 2264.87,491.87L2222.32,504.88Q2219.73,505.67 2218.2,504.4L2199.64,488.95Q2198.11,487.67 2200.7,486.88L2243.24,473.88Q2245.83,473.09 2247.36,474.36Z" fill="#000" stroke="none"/><path d="M2236.19,465.06Q2237.72,466.33 2235.13,467.13L2192.58,480.13Q2189.99,480.92 2188.46,479.65L2169.9,464.2Q2168.37,462.93 2170.96,462.14L2213.51,449.13Q2216.09,448.34 2217.62,449.61Z" fill="#000" stroke="none"/><path d="M2206.45,440.31Q2207.98,441.59 2205.39,442.38L2162.85,455.38Q2160.26,456.18 2158.73,454.9L2140.16,439.45Q2138.63,438.18 2141.22,437.39L2183.77,424.38Q2186.36,423.59 2187.89,424.87Z" fill="#000" stroke="none"/><path d="M2176.71,415.57Q2178.24,416.84 2175.65,417.63L2133.11,430.64Q2130.52,431.43 2128.99,430.16L2110.42,414.71Q2108.89,413.43 2111.48,412.64L2154.03,399.64Q2156.62,398.85 2158.15,400.12Z" fill="#000" stroke="none"/><path d="M2146.97,390.82Q2148.5,392.09 2145.92,392.89L2103.37,405.89Q2100.78,406.68 2099.25,405.41L2080.69,389.96Q2079.16,388.69 2081.75,387.9L2124.29,374.89Q2126.88,374.1 2128.41,375.37Z" fill="#000" stroke="none"/></mask>
<path d="M2560.28,444.64Q2558.99,445.04 2559.75,445.67L2564.34,449.49Q2565.11,450.13 2563.81,450.52L2553.85,453.57Q2552.55,453.97 2551.79,453.33L2547.2,449.51Q2546.43,448.87 2545.14,449.27L2500,463.07Q2498.71,463.46 2499.47,464.1L2504.06,467.92Q2504.83,468.56 2503.53,468.95L2493.57,472Q2492.27,472.39 2491.51,471.76L2486.92,467.94Q2486.15,467.3 2484.86,467.7L2439.72,481.49Q2438.43,481.89 2439.19,482.53L2443.78,486.35Q2444.55,486.98 2443.25,487.38L2433.28,490.42Q2431.99,490.82 2431.23,490.18L2426.64,486.36Q2425.87,485.73 2424.58,486.12L2379.44,499.92Q2378.15,500.32 2378.91,500.95L2383.5,504.77Q2384.27,505.41 2382.97,505.8L2373,508.85Q2371.71,509.25 2370.94,508.61L2366.35,504.79Q2365.59,504.15 2364.3,504.55L2319.16,518.35Q2317.87,518.74 2318.63,519.38L2323.22,523.2Q2323.99,523.83 2322.69,524.23L2312.72,527.28Q2311.43,527.67 2310.66,527.04L2306.07,523.22Q2305.31,522.58 2304.01,522.98L2258.88,536.77Q2257.59,537.17 2258.35,537.8L2262.94,541.62Q2263.71,542.26 2262.41,542.66L2252.44,545.7Q2251.15,546.1 2250.38,545.46L2245.79,541.64Q2245.03,541.01 2243.73,541.4L2234.59,544.2Q2233.29,544.59 2232.53,543.96L2225.94,538.48Q2225.18,537.84 2226.47,537.45L2235.62,534.65Q2236.91,534.25 2236.15,533.62L2216.06,516.9Q2215.29,516.26 2214,516.66L2204.85,519.45Q2203.55,519.85 2202.79,519.21L2196.2,513.73Q2195.44,513.1 2196.73,512.7L2205.88,509.9Q2207.18,509.51 2206.41,508.87L2186.32,492.15Q2185.55,491.51 2184.26,491.91L2175.11,494.7Q2173.82,495.1 2173.05,494.46L2166.47,488.99Q2165.7,488.35 2167,487.95L2176.14,485.16Q2177.44,484.76 2176.67,484.12L2156.58,467.4Q2155.81,466.77 2154.52,467.16L2145.37,469.96Q2144.08,470.35 2143.31,469.72L2136.73,464.24Q2135.96,463.6 2137.26,463.21L2146.41,460.41Q2147.7,460.01 2146.94,459.38L2126.84,442.66Q2126.08,442.02 2124.78,442.42L2115.63,445.21Q2114.34,445.61 2113.57,444.97L2106.99,439.49Q2106.23,438.85 2107.52,438.46L2116.67,435.66Q2117.96,435.27 2117.2,434.63L2097.1,417.91Q2096.34,417.27 2095.04,417.67L2085.9,420.46Q2084.6,420.86 2083.84,420.22L2077.25,414.74Q2076.49,414.11 2077.78,413.71L2086.93,410.92Q2088.22,410.52 2087.46,409.88L2067.36,393.16Q2066.6,392.53 2065.31,392.92L2056.16,395.72Q2054.86,396.11 2054.1,395.48L2047.51,390Q2046.75,389.36 2048.04,388.97L2057.19,386.17Q2058.49,385.77 2057.72,385.14L2052.62,380.89Q2051.86,380.26 2053.15,379.86L2063.12,376.81Q2064.41,376.42 2065.18,377.05L2070.28,381.3Q2071.04,381.94 2072.34,381.54L2117.47,367.74Q2118.77,367.35 2118,366.71L2112.9,362.47Q2112.14,361.83 2113.43,361.43L2123.4,358.39Q2124.69,357.99 2125.46,358.63L2130.56,362.87Q2131.32,363.51 2132.62,363.11L2177.75,349.32Q2179.05,348.92 2178.28,348.28L2173.18,344.04Q2172.42,343.4 2173.71,343.01L2183.68,339.96Q2184.97,339.57 2185.74,340.2L2190.84,344.45Q2191.6,345.08 2192.9,344.69L2238.03,330.89Q2239.33,330.49 2238.56,329.86L2233.46,325.61Q2232.7,324.98 2233.99,324.58L2243.96,321.53Q2245.25,321.14 2246.02,321.78L2251.12,326.02Q2251.88,326.66 2253.18,326.26L2298.31,312.46Q2299.61,312.07 2298.84,311.43L2293.74,307.19Q2292.98,306.55 2294.27,306.16L2304.24,303.11Q2305.53,302.71 2306.3,303.35L2311.4,307.59Q2312.16,308.23 2313.46,307.83L2358.59,294.04Q2359.89,293.64 2359.12,293L2354.02,288.76Q2353.26,288.12 2354.55,287.73L2364.52,284.68Q2365.82,284.29 2366.58,284.92L2371.68,289.17Q2372.45,289.8 2373.74,289.41L2381.51,287.03Q2382.8,286.64 2383.57,287.27L2390.15,292.75Q2390.92,293.39 2389.62,293.79L2381.85,296.16Q2380.56,296.56 2381.32,297.19L2401.42,313.91Q2402.18,314.55 2403.48,314.15L2411.24,311.78Q2412.54,311.38 2413.3,312.02L2419.89,317.5Q2420.65,318.14 2419.36,318.53L2411.59,320.91Q2410.3,321.3 2411.06,321.94L2431.16,338.66Q2431.92,339.3 2433.22,338.9L2440.98,336.53Q2442.28,336.13 2443.04,336.77L2449.63,342.25Q2450.39,342.88 2449.1,343.28L2441.33,345.65Q2440.04,346.05 2440.8,346.69L2460.89,363.41Q2461.66,364.04 2462.95,363.65L2470.72,361.27Q2472.02,360.88 2472.78,361.51L2479.36,366.99Q2480.13,367.63 2478.84,368.03L2471.07,370.4Q2469.77,370.8 2470.54,371.43L2490.63,388.15Q2491.4,388.79 2492.69,388.39L2500.46,386.02Q2501.75,385.62 2502.52,386.26L2509.1,391.74Q2509.87,392.38 2508.57,392.77L2500.81,395.15Q2499.51,395.54 2500.28,396.18L2520.37,412.9Q2521.14,413.54 2522.43,413.14L2530.2,410.77Q2531.49,410.37 2532.26,411.01L2538.84,416.49Q2539.61,417.12 2538.31,417.52L2530.54,419.89Q2529.25,420.29 2530.01,420.93L2550.11,437.65Q2550.87,438.28 2552.17,437.89L2559.94,435.51Q2561.23,435.12 2561.99,435.75L2568.58,441.23Q2569.34,441.87 2568.05,442.27Z" stroke-width="2.1"/>
<path d="M2560.28,448.84Q2558.99,449.24 2559.75,449.87L2564.34,453.69Q2565.11,454.33 2563.81,454.72L2553.85,457.77Q2552.55,458.17 2551.79,457.53L2547.2,453.71Q2546.43,453.07 2545.14,453.47L2500,467.27Q2498.71,467.66 2499.47,468.3L2504.06,472.12Q2504.83,472.76 2503.53,473.15L2493.57,476.2Q2492.27,476.59 2491.51,475.96L2486.92,472.14Q2486.15,471.5 2484.86,471.9L2439.72,485.69Q2438.43,486.09 2439.19,486.73L2443.78,490.55Q2444.55,491.18 2443.25,491.58L2433.28,494.62Q2431.99,495.02 2431.23,494.38L2426.64,490.56Q2425.87,489.93 2424.58,490.32L2379.44,504.12Q2378.15,504.52 2378.91,505.15L2383.5,508.97Q2384.27,509.61 2382.97,510L2373,513.05Q2371.71,513.45 2370.94,512.81L2366.35,508.99Q2365.59,508.35 2364.3,508.75L2319.16,522.55Q2317.87,522.94 2318.63,523.58L2323.22,527.4Q2323.99,528.03 2322.69,528.43L2312.72,531.48Q2311.43,531.87 2310.66,531.24L2306.07,527.42Q2305.31,526.78 2304.01,527.18L2258.88,540.97Q2257.59,541.37 2258.35,542L2262.94,545.82Q2263.71,546.46 2262.41,546.86L2252.44,549.9Q2251.15,550.3 2250.38,549.66L2245.79,545.84Q2245.03,545.21 2243.73,545.6L2234.59,548.4Q2233.29,548.79 2232.53,548.16L2225.94,542.68Q2225.18,542.04 2226.47,541.65L2235.62,538.85Q2236.91,538.45 2236.15,537.82L2216.06,521.1Q2215.29,520.46 2214,520.86L2204.85,523.65Q2203.55,524.05 2202.79,523.41L2196.2,517.93Q2195.44,517.3 2196.73,516.9L2205.88,514.1Q2207.18,513.71 2206.41,513.07L2186.32,496.35Q2185.55,495.71 2184.26,496.11L2175.11,498.9Q2173.82,499.3 2173.05,498.66L2166.47,493.19Q2165.7,492.55 2167,492.15L2176.14,489.36Q2177.44,488.96 2176.67,488.32L2156.58,471.6Q2155.81,470.97 2154.52,471.36L2145.37,474.16Q2144.08,474.55 2143.31,473.92L2136.73,468.44Q2135.96,467.8 2137.26,467.41L2146.41,464.61Q2147.7,464.21 2146.94,463.58L2126.84,446.86Q2126.08,446.22 2124.78,446.62L2115.63,449.41Q2114.34,449.81 2113.57,449.17L2106.99,443.69Q2106.23,443.05 2107.52,442.66L2116.67,439.86Q2117.96,439.47 2117.2,438.83L2097.1,422.11Q2096.34,421.47 2095.04,421.87L2085.9,424.66Q2084.6,425.06 2083.84,424.42L2077.25,418.94Q2076.49,418.31 2077.78,417.91L2086.93,415.12Q2088.22,414.72 2087.46,414.08L2067.36,397.36Q2066.6,396.73 2065.31,397.12L2056.16,399.92Q2054.86,400.31 2054.1,399.68L2047.51,394.2Q2046.75,393.56 2048.04,393.17L2057.19,390.37Q2058.49,389.97 2057.72,389.34L2052.62,385.09Q2051.86,384.46 2053.15,384.06L2063.12,381.01Q2064.41,380.62 2065.18,381.25L2070.28,385.5Q2071.04,386.14 2072.34,385.74L2117.47,371.94Q2118.77,371.55 2118,370.91L2112.9,366.67Q2112.14,366.03 2113.43,365.63L2123.4,362.59Q2124.69,362.19 2125.46,362.83L2130.56,367.07Q2131.32,367.71 2132.62,367.31L2177.75,353.52Q2179.05,353.12 2178.28,352.48L2173.18,348.24Q2172.42,347.6 2173.71,347.21L2183.68,344.16Q2184.97,343.77 2185.74,344.4L2190.84,348.65Q2191.6,349.28 2192.9,348.89L2238.03,335.09Q2239.33,334.69 2238.56,334.06L2233.46,329.81Q2232.7,329.18 2233.99,328.78L2243.96,325.73Q2245.25,325.34 2246.02,325.98L2251.12,330.22Q2251.88,330.86 2253.18,330.46L2298.31,316.66Q2299.61,316.27 2298.84,315.63L2293.74,311.39Q2292.98,310.75 2294.27,310.36L2304.24,307.31Q2305.53,306.91 2306.3,307.55L2311.4,311.79Q2312.16,312.43 2313.46,312.03L2358.59,298.24Q2359.89,297.84 2359.12,297.2L2354.02,292.96Q2353.26,292.32 2354.55,291.93L2364.52,288.88Q2365.82,288.49 2366.58,289.12L2371.68,293.37Q2372.45,294 2373.74,293.61L2381.51,291.23Q2382.8,290.84 2383.57,291.47L2390.15,296.95Q2390.92,297.59 2389.62,297.99L2381.85,300.36Q2380.56,300.76 2381.32,301.39L2401.42,318.11Q2402.18,318.75 2403.48,318.35L2411.24,315.98Q2412.54,315.58 2413.3,316.22L2419.89,321.7Q2420.65,322.34 2419.36,322.73L2411.59,325.11Q2410.3,325.5 2411.06,326.14L2431.16,342.86Q2431.92,343.5 2433.22,343.1L2440.98,340.73Q2442.28,340.33 2443.04,340.97L2449.63,346.45Q2450.39,347.08 2449.1,347.48L2441.33,349.85Q2440.04,350.25 2440.8,350.89L2460.89,367.61Q2461.66,368.24 2462.95,367.85L2470.72,365.47Q2472.02,365.08 2472.78,365.71L2479.36,371.19Q2480.13,371.83 2478.84,372.23L2471.07,374.6Q2469.77,375 2470.54,375.63L2490.63,392.35Q2491.4,392.99 2492.69,392.59L2500.46,390.22Q2501.75,389.82 2502.52,390.46L2509.1,395.94Q2509.87,396.58 2508.57,396.97L2500.81,399.35Q2499.51,399.74 2500.28,400.38L2520.37,417.1Q2521.14,417.74 2522.43,417.34L2530.2,414.97Q2531.49,414.57 2532.26,415.21L2538.84,420.69Q2539.61,421.32 2538.31,421.72L2530.54,424.09Q2529.25,424.49 2530.01,425.13L2550.11,441.85Q2550.87,442.48 2552.17,442.09L2559.94,439.71Q2561.23,439.32 2561.99,439.95L2568.58,445.43Q2569.34,446.07 2568.05,446.47Z" stroke-width="1.9" clip-path="url(#latclip)"/>
<g mask="url(#padmask)"><path d="M2536.79,445.05Q2538.32,446.32 2535.73,447.11L2493.18,460.12Q2490.59,460.91 2489.06,459.64L2470.5,444.19Q2468.97,442.92 2471.56,442.12L2514.1,429.12Q2516.69,428.33 2518.22,429.6Z" stroke-width="1.9"/><path d="M2507.05,420.3Q2508.58,421.58 2505.99,422.37L2463.44,435.37Q2460.86,436.16 2459.33,434.89L2440.76,419.44Q2439.23,418.17 2441.82,417.38L2484.37,404.37Q2486.96,403.58 2488.49,404.85Z" stroke-width="1.9"/><path d="M2477.31,395.56Q2478.84,396.83 2476.25,397.62L2433.71,410.63Q2431.12,411.42 2429.59,410.14L2411.02,394.7Q2409.49,393.42 2412.08,392.63L2454.63,379.63Q2457.22,378.83 2458.75,380.11Z" stroke-width="1.9"/><path d="M2447.57,370.81Q2449.1,372.08 2446.51,372.87L2403.97,385.88Q2401.38,386.67 2399.85,385.4L2381.28,369.95Q2379.76,368.68 2382.34,367.88L2424.89,354.88Q2427.48,354.09 2429.01,355.36Z" stroke-width="1.9"/><path d="M2417.83,346.06Q2419.36,347.34 2416.78,348.13L2374.23,361.13Q2371.64,361.92 2370.11,360.65L2351.55,345.2Q2350.02,343.93 2352.61,343.14L2395.15,330.13Q2397.74,329.34 2399.27,330.61Z" stroke-width="1.9"/><path d="M2388.1,321.32Q2389.63,322.59 2387.04,323.38L2344.49,336.39Q2341.9,337.18 2340.37,335.9L2321.81,320.46Q2320.28,319.18 2322.87,318.39L2365.41,305.39Q2368,304.59 2369.53,305.87Z" stroke-width="1.9"/><path d="M2476.51,463.48Q2478.04,464.75 2475.45,465.54L2432.9,478.55Q2430.31,479.34 2428.78,478.06L2410.22,462.62Q2408.69,461.34 2411.28,460.55L2453.82,447.55Q2456.41,446.75 2457.94,448.03Z" stroke-width="1.9"/><path d="M2446.77,438.73Q2448.3,440 2445.71,440.79L2403.16,453.8Q2400.57,454.59 2399.04,453.32L2380.48,437.87Q2378.95,436.6 2381.54,435.8L2424.09,422.8Q2426.67,422.01 2428.2,423.28Z" stroke-width="1.9"/><path d="M2417.03,413.98Q2418.56,415.26 2415.97,416.05L2373.43,429.05Q2370.84,429.84 2369.31,428.57L2350.74,413.12Q2349.21,411.85 2351.8,411.06L2394.35,398.05Q2396.94,397.26 2398.47,398.53Z" stroke-width="1.9"/><path d="M2387.29,389.24Q2388.82,390.51 2386.23,391.3L2343.69,404.31Q2341.1,405.1 2339.57,403.82L2321,388.38Q2319.47,387.1 2322.06,386.31L2364.61,373.31Q2367.2,372.51 2368.73,373.79Z" stroke-width="1.9"/><path d="M2357.55,364.49Q2359.08,365.76 2356.5,366.55L2313.95,379.56Q2311.36,380.35 2309.83,379.08L2291.27,363.63Q2289.74,362.36 2292.33,361.56L2334.87,348.56Q2337.46,347.77 2338.99,349.04Z" stroke-width="1.9"/><path d="M2327.82,339.74Q2329.35,341.01 2326.76,341.81L2284.21,354.81Q2281.62,355.6 2280.09,354.33L2261.53,338.88Q2260,337.61 2262.59,336.82L2305.13,323.81Q2307.72,323.02 2309.25,324.29Z" stroke-width="1.9"/><path d="M2416.23,481.9Q2417.76,483.18 2415.17,483.97L2372.62,496.97Q2370.03,497.76 2368.5,496.49L2349.94,481.04Q2348.41,479.77 2351,478.98L2393.54,465.97Q2396.13,465.18 2397.66,466.45Z" stroke-width="1.9"/><path d="M2386.49,457.16Q2388.02,458.43 2385.43,459.22L2342.88,472.22Q2340.29,473.02 2338.76,471.74L2320.2,456.3Q2318.67,455.02 2321.26,454.23L2363.81,441.23Q2366.39,440.43 2367.92,441.71Z" stroke-width="1.9"/><path d="M2356.75,432.41Q2358.28,433.68 2355.69,434.47L2313.15,447.48Q2310.56,448.27 2309.03,447L2290.46,431.55Q2288.93,430.28 2291.52,429.48L2334.07,416.48Q2336.66,415.69 2338.19,416.96Z" stroke-width="1.9"/><path d="M2327.01,407.66Q2328.54,408.93 2325.95,409.73L2283.41,422.73Q2280.82,423.52 2279.29,422.25L2260.72,406.8Q2259.19,405.53 2261.78,404.74L2304.33,391.73Q2306.92,390.94 2308.45,392.21Z" stroke-width="1.9"/><path d="M2297.27,382.91Q2298.8,384.19 2296.21,384.98L2253.67,397.98Q2251.08,398.78 2249.55,397.5L2230.99,382.05Q2229.46,380.78 2232.04,379.99L2274.59,366.98Q2277.18,366.19 2278.71,367.47Z" stroke-width="1.9"/><path d="M2267.54,358.17Q2269.07,359.44 2266.48,360.23L2223.93,373.24Q2221.34,374.03 2219.81,372.76L2201.25,357.31Q2199.72,356.03 2202.31,355.24L2244.85,342.24Q2247.44,341.45 2248.97,342.72Z" stroke-width="1.9"/><path d="M2355.95,500.33Q2357.48,501.6 2354.89,502.39L2312.34,515.4Q2309.75,516.19 2308.22,514.92L2289.66,499.47Q2288.13,498.2 2290.72,497.4L2333.26,484.4Q2335.85,483.61 2337.38,484.88Z" stroke-width="1.9"/><path d="M2326.21,475.58Q2327.74,476.85 2325.15,477.65L2282.6,490.65Q2280.01,491.44 2278.48,490.17L2259.92,474.72Q2258.39,473.45 2260.98,472.66L2303.52,459.65Q2306.11,458.86 2307.64,460.13Z" stroke-width="1.9"/><path d="M2296.47,450.83Q2298,452.11 2295.41,452.9L2252.86,465.9Q2250.28,466.7 2248.75,465.42L2230.18,449.97Q2228.65,448.7 2231.24,447.91L2273.79,434.9Q2276.38,434.11 2277.91,435.39Z" stroke-width="1.9"/><path d="M2266.73,426.09Q2268.26,427.36 2265.67,428.15L2223.13,441.16Q2220.54,441.95 2219.01,440.68L2200.44,425.23Q2198.91,423.95 2201.5,423.16L2244.05,410.16Q2246.64,409.37 2248.17,410.64Z" stroke-width="1.9"/><path d="M2236.99,401.34Q2238.52,402.61 2235.93,403.41L2193.39,416.41Q2190.8,417.2 2189.27,415.93L2170.71,400.48Q2169.18,399.21 2171.76,398.42L2214.31,385.41Q2216.9,384.62 2218.43,385.89Z" stroke-width="1.9"/><path d="M2207.26,376.59Q2208.79,377.87 2206.2,378.66L2163.65,391.66Q2161.06,392.46 2159.53,391.18L2140.97,375.73Q2139.44,374.46 2142.03,373.67L2184.57,360.66Q2187.16,359.87 2188.69,361.15Z" stroke-width="1.9"/><path d="M2295.66,518.75Q2297.2,520.03 2294.61,520.82L2252.06,533.82Q2249.47,534.62 2247.94,533.34L2229.38,517.89Q2227.85,516.62 2230.44,515.83L2272.98,502.82Q2275.57,502.03 2277.1,503.31Z" stroke-width="1.9"/><path d="M2265.93,494.01Q2267.46,495.28 2264.87,496.07L2222.32,509.08Q2219.73,509.87 2218.2,508.6L2199.64,493.15Q2198.11,491.87 2200.7,491.08L2243.24,478.08Q2245.83,477.29 2247.36,478.56Z" stroke-width="1.9"/><path d="M2236.19,469.26Q2237.72,470.53 2235.13,471.33L2192.58,484.33Q2189.99,485.12 2188.46,483.85L2169.9,468.4Q2168.37,467.13 2170.96,466.34L2213.51,453.33Q2216.09,452.54 2217.62,453.81Z" stroke-width="1.9"/><path d="M2206.45,444.51Q2207.98,445.79 2205.39,446.58L2162.85,459.58Q2160.26,460.38 2158.73,459.1L2140.16,443.65Q2138.63,442.38 2141.22,441.59L2183.77,428.58Q2186.36,427.79 2187.89,429.07Z" stroke-width="1.9"/><path d="M2176.71,419.77Q2178.24,421.04 2175.65,421.83L2133.11,434.84Q2130.52,435.63 2128.99,434.36L2110.42,418.91Q2108.89,417.63 2111.48,416.84L2154.03,403.84Q2156.62,403.05 2158.15,404.32Z" stroke-width="1.9"/><path d="M2146.97,395.02Q2148.5,396.29 2145.92,397.09L2103.37,410.09Q2100.78,410.88 2099.25,409.61L2080.69,394.16Q2079.16,392.89 2081.75,392.1L2124.29,379.09Q2126.88,378.3 2128.41,379.57Z" stroke-width="1.9"/></g>
<path d="M2536.79,440.85Q2538.32,442.12 2535.73,442.91L2493.18,455.92Q2490.59,456.71 2489.06,455.44L2470.5,439.99Q2468.97,438.72 2471.56,437.92L2514.1,424.92Q2516.69,424.13 2518.22,425.4Z" stroke-width="2.1"/>
<path d="M2507.05,416.1Q2508.58,417.38 2505.99,418.17L2463.44,431.17Q2460.86,431.96 2459.33,430.69L2440.76,415.24Q2439.23,413.97 2441.82,413.18L2484.37,400.17Q2486.96,399.38 2488.49,400.65Z" stroke-width="2.1"/>
<path d="M2477.31,391.36Q2478.84,392.63 2476.25,393.42L2433.71,406.43Q2431.12,407.22 2429.59,405.94L2411.02,390.5Q2409.49,389.22 2412.08,388.43L2454.63,375.43Q2457.22,374.63 2458.75,375.91Z" stroke-width="2.1"/>
<path d="M2447.57,366.61Q2449.1,367.88 2446.51,368.67L2403.97,381.68Q2401.38,382.47 2399.85,381.2L2381.28,365.75Q2379.76,364.48 2382.34,363.68L2424.89,350.68Q2427.48,349.89 2429.01,351.16Z" stroke-width="2.1"/>
<path d="M2417.83,341.86Q2419.36,343.14 2416.78,343.93L2374.23,356.93Q2371.64,357.72 2370.11,356.45L2351.55,341Q2350.02,339.73 2352.61,338.94L2395.15,325.93Q2397.74,325.14 2399.27,326.41Z" stroke-width="2.1"/>
<path d="M2388.1,317.12Q2389.63,318.39 2387.04,319.18L2344.49,332.19Q2341.9,332.98 2340.37,331.7L2321.81,316.26Q2320.28,314.98 2322.87,314.19L2365.41,301.19Q2368,300.39 2369.53,301.67Z" stroke-width="2.1"/>
<path d="M2476.51,459.28Q2478.04,460.55 2475.45,461.34L2432.9,474.35Q2430.31,475.14 2428.78,473.86L2410.22,458.42Q2408.69,457.14 2411.28,456.35L2453.82,443.35Q2456.41,442.55 2457.94,443.83Z" stroke-width="2.1"/>
<path d="M2446.77,434.53Q2448.3,435.8 2445.71,436.59L2403.16,449.6Q2400.57,450.39 2399.04,449.12L2380.48,433.67Q2378.95,432.4 2381.54,431.6L2424.09,418.6Q2426.67,417.81 2428.2,419.08Z" stroke-width="2.1"/>
<path d="M2417.03,409.78Q2418.56,411.06 2415.97,411.85L2373.43,424.85Q2370.84,425.64 2369.31,424.37L2350.74,408.92Q2349.21,407.65 2351.8,406.86L2394.35,393.85Q2396.94,393.06 2398.47,394.33Z" stroke-width="2.1"/>
<path d="M2387.29,385.04Q2388.82,386.31 2386.23,387.1L2343.69,400.11Q2341.1,400.9 2339.57,399.62L2321,384.18Q2319.47,382.9 2322.06,382.11L2364.61,369.11Q2367.2,368.31 2368.73,369.59Z" stroke-width="2.1"/>
<path d="M2357.55,360.29Q2359.08,361.56 2356.5,362.35L2313.95,375.36Q2311.36,376.15 2309.83,374.88L2291.27,359.43Q2289.74,358.16 2292.33,357.36L2334.87,344.36Q2337.46,343.57 2338.99,344.84Z" stroke-width="2.1"/>
<path d="M2327.82,335.54Q2329.35,336.81 2326.76,337.61L2284.21,350.61Q2281.62,351.4 2280.09,350.13L2261.53,334.68Q2260,333.41 2262.59,332.62L2305.13,319.61Q2307.72,318.82 2309.25,320.09Z" stroke-width="2.1"/>
<path d="M2416.23,477.7Q2417.76,478.98 2415.17,479.77L2372.62,492.77Q2370.03,493.56 2368.5,492.29L2349.94,476.84Q2348.41,475.57 2351,474.78L2393.54,461.77Q2396.13,460.98 2397.66,462.25Z" stroke-width="2.1"/>
<path d="M2386.49,452.96Q2388.02,454.23 2385.43,455.02L2342.88,468.02Q2340.29,468.82 2338.76,467.54L2320.2,452.1Q2318.67,450.82 2321.26,450.03L2363.81,437.03Q2366.39,436.23 2367.92,437.51Z" stroke-width="2.1"/>
<path d="M2356.75,428.21Q2358.28,429.48 2355.69,430.27L2313.15,443.28Q2310.56,444.07 2309.03,442.8L2290.46,427.35Q2288.93,426.08 2291.52,425.28L2334.07,412.28Q2336.66,411.49 2338.19,412.76Z" stroke-width="2.1"/>
<path d="M2327.01,403.46Q2328.54,404.73 2325.95,405.53L2283.41,418.53Q2280.82,419.32 2279.29,418.05L2260.72,402.6Q2259.19,401.33 2261.78,400.54L2304.33,387.53Q2306.92,386.74 2308.45,388.01Z" stroke-width="2.1"/>
<path d="M2297.27,378.71Q2298.8,379.99 2296.21,380.78L2253.67,393.78Q2251.08,394.58 2249.55,393.3L2230.99,377.85Q2229.46,376.58 2232.04,375.79L2274.59,362.78Q2277.18,361.99 2278.71,363.27Z" stroke-width="2.1"/>
<path d="M2267.54,353.97Q2269.07,355.24 2266.48,356.03L2223.93,369.04Q2221.34,369.83 2219.81,368.56L2201.25,353.11Q2199.72,351.83 2202.31,351.04L2244.85,338.04Q2247.44,337.25 2248.97,338.52Z" stroke-width="2.1"/>
<path d="M2355.95,496.13Q2357.48,497.4 2354.89,498.19L2312.34,511.2Q2309.75,511.99 2308.22,510.72L2289.66,495.27Q2288.13,494 2290.72,493.2L2333.26,480.2Q2335.85,479.41 2337.38,480.68Z" stroke-width="2.1"/>
<path d="M2326.21,471.38Q2327.74,472.65 2325.15,473.45L2282.6,486.45Q2280.01,487.24 2278.48,485.97L2259.92,470.52Q2258.39,469.25 2260.98,468.46L2303.52,455.45Q2306.11,454.66 2307.64,455.93Z" stroke-width="2.1"/>
<path d="M2296.47,446.63Q2298,447.91 2295.41,448.7L2252.86,461.7Q2250.28,462.5 2248.75,461.22L2230.18,445.77Q2228.65,444.5 2231.24,443.71L2273.79,430.7Q2276.38,429.91 2277.91,431.19Z" stroke-width="2.1"/>
<path d="M2266.73,421.89Q2268.26,423.16 2265.67,423.95L2223.13,436.96Q2220.54,437.75 2219.01,436.48L2200.44,421.03Q2198.91,419.75 2201.5,418.96L2244.05,405.96Q2246.64,405.17 2248.17,406.44Z" stroke-width="2.1"/>
<path d="M2236.99,397.14Q2238.52,398.41 2235.93,399.21L2193.39,412.21Q2190.8,413 2189.27,411.73L2170.71,396.28Q2169.18,395.01 2171.76,394.22L2214.31,381.21Q2216.9,380.42 2218.43,381.69Z" stroke-width="2.1"/>
<path d="M2207.26,372.39Q2208.79,373.67 2206.2,374.46L2163.65,387.46Q2161.06,388.26 2159.53,386.98L2140.97,371.53Q2139.44,370.26 2142.03,369.47L2184.57,356.46Q2187.16,355.67 2188.69,356.95Z" stroke-width="2.1"/>
<path d="M2295.66,514.55Q2297.2,515.83 2294.61,516.62L2252.06,529.62Q2249.47,530.42 2247.94,529.14L2229.38,513.69Q2227.85,512.42 2230.44,511.63L2272.98,498.62Q2275.57,497.83 2277.1,499.11Z" stroke-width="2.1"/>
<path d="M2265.93,489.81Q2267.46,491.08 2264.87,491.87L2222.32,504.88Q2219.73,505.67 2218.2,504.4L2199.64,488.95Q2198.11,487.67 2200.7,486.88L2243.24,473.88Q2245.83,473.09 2247.36,474.36Z" stroke-width="2.1"/>
<path d="M2236.19,465.06Q2237.72,466.33 2235.13,467.13L2192.58,480.13Q2189.99,480.92 2188.46,479.65L2169.9,464.2Q2168.37,462.93 2170.96,462.14L2213.51,449.13Q2216.09,448.34 2217.62,449.61Z" stroke-width="2.1"/>
<path d="M2206.45,440.31Q2207.98,441.59 2205.39,442.38L2162.85,455.38Q2160.26,456.18 2158.73,454.9L2140.16,439.45Q2138.63,438.18 2141.22,437.39L2183.77,424.38Q2186.36,423.59 2187.89,424.87Z" stroke-width="2.1"/>
<path d="M2176.71,415.57Q2178.24,416.84 2175.65,417.63L2133.11,430.64Q2130.52,431.43 2128.99,430.16L2110.42,414.71Q2108.89,413.43 2111.48,412.64L2154.03,399.64Q2156.62,398.85 2158.15,400.12Z" stroke-width="2.1"/>
<path d="M2146.97,390.82Q2148.5,392.09 2145.92,392.89L2103.37,405.89Q2100.78,406.68 2099.25,405.41L2080.69,389.96Q2079.16,388.69 2081.75,387.9L2124.29,374.89Q2126.88,374.1 2128.41,375.37Z" stroke-width="2.1"/>
<path d="M2531.56,434.73Q2532.07,435.15 2531.2,435.42L2495.3,446.39Q2494.44,446.66 2493.93,446.23L2481.13,435.58Q2480.62,435.15 2481.48,434.89L2517.38,423.92Q2518.25,423.65 2518.76,424.08Z" stroke-width="2.2"/>
<path d="M2286.72,509.57Q2287.23,509.99 2286.37,510.26L2250.13,521.34Q2249.26,521.6 2248.75,521.18L2235.95,510.52Q2235.44,510.1 2236.3,509.84L2272.55,498.76Q2273.41,498.49 2273.92,498.92Z" stroke-width="2.2"/>
<path d="M2390.64,317.47Q2391.15,317.89 2390.29,318.16L2354.39,329.13Q2353.53,329.39 2353.02,328.97L2340.06,318.19Q2339.55,317.77 2340.42,317.5L2376.32,306.53Q2377.18,306.26 2377.69,306.69Z" stroke-width="2.2"/>
<path d="M2145.81,392.31Q2146.32,392.73 2145.46,393L2109.21,404.08Q2108.35,404.34 2107.84,403.92L2094.89,393.14Q2094.38,392.71 2095.24,392.45L2131.48,381.37Q2132.35,381.1 2132.86,381.53Z" stroke-width="2.2"/>
<line x1="2512.19" y1="435.31" x2="2500.98" y2="438.74" stroke-width="4" stroke-linecap="round"/>
<circle cx="2512.19" cy="435.31" r="3.5" fill="#000" stroke="none"/>
<line x1="2267.62" y1="510.07" x2="2256.4" y2="513.5" stroke-width="4" stroke-linecap="round"/>
<circle cx="2267.62" cy="510.07" r="3.5" fill="#000" stroke="none"/>
<line x1="2367.71" y1="315.08" x2="2356.49" y2="318.51" stroke-width="4" stroke-linecap="round"/>
<circle cx="2367.71" cy="315.08" r="3.5" fill="#000" stroke="none"/>
<line x1="2123.14" y1="389.84" x2="2111.92" y2="393.27" stroke-width="4" stroke-linecap="round"/>
<circle cx="2123.14" cy="389.84" r="3.5" fill="#000" stroke="none"/>
<path d="M2039,478.5 C2055,478 2068,500.5 2083.5,500.5 C2096,500.5 2103,489 2117,489" stroke-width="8.5" stroke-linecap="butt"/>
<ellipse cx="2118.5" cy="489" rx="2.2" ry="5" stroke-width="1.8" fill="#fff"/>
<line x1="2009.8" y1="572.3" x2="2033.2" y2="572.3" stroke-width="1.3" />
<line x1="2033.2" y1="572.3" x2="2080" y2="541.5" stroke-width="1.3" />
<polygon points="2096.6,531.3 2076.59,550.11 2076.83,544.01 2071.18,541.69" fill="#000" stroke="none"/>
</g>
</g>
<g fill="#000" stroke="none">
<text x="218.3" y="618.5" font-size="38" text-anchor="start" >576</text>
<text x="191.4" y="962.5" font-size="38" text-anchor="start" >595</text>
<text x="572.3" y="638.2" font-size="38" text-anchor="middle" transform="rotate(-90 572.3 638.2)" >595</text>
<text x="655.2" y="290.6" font-size="38" text-anchor="middle" transform="rotate(-90 655.2 290.6)" >4<tspan fill-opacity='0'>1</tspan></text>
<text x="927.6" y="956.5" font-size="38" text-anchor="start" >360</text>
<text x="1306.8" y="632.3" font-size="38" text-anchor="middle" transform="rotate(-90 1306.8 632.3)" >360</text>
<text x="2005.8" y="564" font-size="38" text-anchor="start" >2</text>
<polygon points="2078.5,271.74 2078.5,298.8 2075.57,298.8 2075.57,277.41 2068.66,281.7 2068.43,279"/>
<polygon points="1981.9,679.99 1981.9,706.9 1978.99,706.9 1978.99,685.62 1972.11,689.89 1971.88,687.21"/>
<polygon points="510,1174.73 510,1202 507.05,1202 507.05,1180.44 500.08,1184.77 499.85,1182.05"/>
<polygon points="655,249.04 655,276.1 652.07,276.1 652.07,254.71 645.16,259 644.93,256.3" transform="rotate(-90 655 276.1)"/>
<text x="1806.1" y="707.3" font-size="37.8" text-anchor="start" >Таблица <tspan fill-opacity='0'>1</tspan></text>
<text x="419.2" y="1202" font-size="38.3" text-anchor="start" >Рис.<tspan fill-opacity='0'>1</tspan> Габаритный чертеж.</text>
<text x="2082.2" y="1202" font-size="38" text-anchor="start" >Рис.2 Монтажный чертеж.</text>
<text x="2508.3" y="772" font-size="33.4" text-anchor="middle" >Цветовая маркировка</text>
<text x="2507.5" y="804.7" font-size="33.4" text-anchor="middle" >жил кабеля</text>
<text x="2263.8" y="848.1" font-size="33.4" text-anchor="middle" >L</text>
<text x="2508.6" y="848" font-size="33.4" text-anchor="middle" >Коричневый</text>
<text x="2264.2" y="891.5" font-size="33.4" text-anchor="middle" >N</text>
<text x="2508.2" y="891.5" font-size="33.4" text-anchor="middle" >Синий</text>
<text x="2019.8" y="847.7" font-size="33.4" text-anchor="middle" >Фазный проводник</text>
<text x="2020.4" y="891.2" font-size="33.4" text-anchor="middle" >Нейтральный проводник</text>
</g>
<g stroke="#000" fill="none">
<rect x="1812.5" y="737.9" width="903.2" height="161.7" stroke-width="1.8"/>
<line x1="1812.5" y1="813.7" x2="2715.7" y2="813.7" stroke-width="1.8" />
<line x1="1812.5" y1="856.9" x2="2715.7" y2="856.9" stroke-width="1.8" />
<line x1="2226.7" y1="737.9" x2="2226.7" y2="899.6" stroke-width="1.8" />
<line x1="2300.9" y1="737.9" x2="2300.9" y2="899.6" stroke-width="1.8" />
</g>
</svg>
</body></html>
